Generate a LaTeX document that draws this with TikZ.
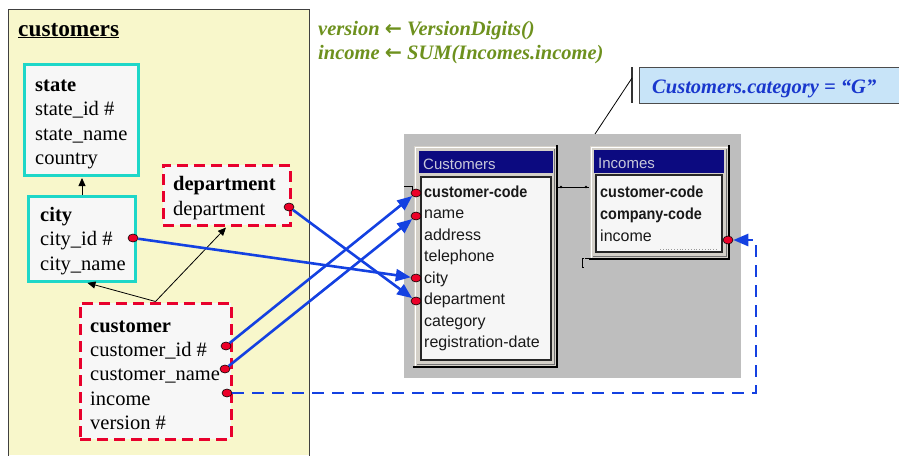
\documentclass[tikz,border=0pt]{standalone}
\usepackage{fontspec}
\usepackage{graphicx}
\setmainfont{Liberation Serif}
\newfontfamily\winfont{Liberation Sans}
\newfontfamily\arrowfont{DejaVu Sans}
\usetikzlibrary{arrows.meta,shapes.geometric}

\definecolor{panelyellow}{RGB}{248,247,203}
\definecolor{boxfill}{RGB}{247,247,247}
\definecolor{tealline}{RGB}{30,215,200}
\definecolor{redline}{RGB}{232,0,45}
\definecolor{dotred}{RGB}{235,0,40}
\definecolor{linkblue}{RGB}{20,65,225}
\definecolor{formgreen}{RGB}{110,145,30}
\definecolor{calloutfill}{RGB}{200,228,248}
\definecolor{calloutblue}{RGB}{25,55,205}
\definecolor{dbgray}{RGB}{190,190,190}
\definecolor{winface}{RGB}{212,208,200}
\definecolor{titlenavy}{RGB}{12,10,128}
\definecolor{titletext}{RGB}{200,200,218}
\definecolor{listfill}{RGB}{246,246,246}

% heavy left arrow used in the derivation formulas
\newcommand{\assignarrow}{{\arrowfont\bfseries\upshape ←}}

\tikzset{
  tealbox/.style={rectangle, draw=tealline, line width=3pt, fill=boxfill, inner sep=0pt},
  redbox/.style={rectangle, draw=redline, line width=3pt, dash pattern=on 11pt off 6pt, fill=boxfill, inner sep=0pt},
  boxtext/.style={anchor=base west, inner sep=0pt, font=\fontsize{20.5}{24}\selectfont},
  boxhead/.style={boxtext, font=\fontsize{20.5}{24}\selectfont\bfseries},
  fieldtext/.style={anchor=base west, inner sep=0pt, font=\winfont\fontsize{16}{19}\selectfont, text=black!90},
  fieldkey/.style={fieldtext},
  wintitle/.style={anchor=base west, inner sep=0pt, font=\winfont\fontsize{15}{18}\selectfont, text=titletext},
  formula/.style={anchor=base west, inner sep=0pt, font=\fontsize{20.5}{24}\selectfont\bfseries\itshape, text=formgreen},
  keydot/.style={ellipse, draw=black, line width=0.6pt, fill=dotred, minimum width=10pt, minimum height=8pt, inner sep=0pt},
  thinarrow/.style={draw=black, line width=0.8pt, -{Triangle[length=8pt,width=7pt]}},
  link/.style={draw=linkblue, line width=2.6pt, -{Triangle[length=15pt,width=12pt]}},
  linkdashed/.style={link, dash pattern=on 12pt off 8pt},
}

\begin{document}
\begin{tikzpicture}[x=1pt,y=-1pt]
\useasboundingbox (0,0) rectangle (899,455);

% ---- conceptual schema panel ----
\fill[panelyellow] (8,9) rectangle (309,455);
\draw[black!75, line width=1pt] (8,456) -- (8,9) -- (309,9) -- (309,456);
\node[anchor=base west, inner sep=0pt, font=\fontsize{23.3}{27}\selectfont\bfseries] (title) at (18,36) {\underline{customers}};

% state
\node[tealbox, minimum width=114pt, minimum height=111pt] (state) at (81,119.5) {};
\node[boxhead] (state-h) at (35,91) {state};
\node[boxtext] (state-1) at (35,115.5) {state\_id \#};
\node[boxtext] (state-2) at (35,140) {state\_name};
\node[boxtext] (state-3) at (35,164.5) {country};

% city
\node[tealbox, minimum width=106.5pt, minimum height=84.5pt] (city) at (81.75,238.75) {};
\node[boxhead] (city-h) at (40,221) {city};
\node[boxtext] (city-1) at (40,245.5) {city\_id \#};
\node[boxtext] (city-2) at (40,270) {city\_name};

% department
\node[redbox, minimum width=127pt, minimum height=60pt] (dept) at (226.5,195) {};
\node[boxhead] (dept-h) at (173,190) {department};
\node[boxtext] (dept-1) at (173,215) {department};

% customer
\node[redbox, minimum width=151pt, minimum height=136pt] (cust) at (155.5,371) {};
\node[boxhead] (cust-h) at (90,332) {customer};
\node[boxtext] (cust-1) at (90,356) {customer\_id \#};
\node[boxtext] (cust-2) at (90,380.5) {customer\_name};
\node[boxtext] (cust-3) at (90,405) {income};
\node[boxtext] (cust-4) at (90,429) {version \#};

% hierarchy arrows
\draw[thinarrow, shorten >=1.5pt] (city.north -| 82,0) -- (state.south -| 82,0);
\draw[thinarrow, shorten >=1.5pt] (cust.north) -- (city.south -| 86,0);
\draw[thinarrow, shorten >=1.5pt] (cust.north) -- (dept.south -| 227,0);

% ---- derivation formulas ----
\node[formula] (f1) at (318,35) {version \assignarrow{} VersionDigits()};
\node[formula] (f2) at (318,59) {income \assignarrow{} SUM(Incomes.income)};

% ---- source database diagram ----
\fill[dbgray] (404,134) rectangle (741,378);

% Customers table window
\fill[winface] (414,146) rectangle (557,367);
\draw[white, line width=1pt] (415,366) -- (415,147) -- (556,147);
\draw[black!55, line width=1pt] (554,149) -- (554,364) -- (417,364);
\draw[black, line width=1.5pt] (557,145) -- (557,367) -- (413,367);
\fill[titlenavy] (419,151) rectangle (553,173);
\draw[black!85, line width=1.3pt, fill=listfill] (421,177) rectangle (551,360);
\node[wintitle] (custwin-t) at (423,169) {Customers};
\node[fieldkey] (cw-1) at (424,197) {\scalebox{0.9}[1]{\bfseries customer-code}};
\node[fieldtext] (cw-2) at (424,218.5) {name};
\node[fieldtext] (cw-3) at (424,240) {address};
\node[fieldtext] (cw-4) at (424,261.5) {telephone};
\node[fieldtext] (cw-5) at (424,283) {city};
\node[fieldtext] (cw-6) at (424,304.5) {department};
\node[fieldtext] (cw-7) at (424,326) {category};
\node[fieldtext] (cw-8) at (424,347.5) {registration-date};

% Incomes table window
\fill[winface] (590,146) rectangle (729,259);
\draw[white, line width=1pt] (591,258) -- (591,147) -- (728,147);
\draw[black!55, line width=1pt] (726,149) -- (726,256) -- (593,256);
\draw[black, line width=1.5pt] (729,145) -- (729,259) -- (589,259);
\fill[titlenavy] (594,150) rectangle (724,173);
\draw[black!85, line width=1.3pt, fill=listfill] (596,175) rectangle (722,252);
\draw[black!40, line width=0.8pt, dotted] (660,249) -- (718,249);
\node[wintitle] (incwin-t) at (598,168) {Incomes};
\node[fieldkey] (iw-1) at (600,197) {\scalebox{0.9}[1]{\bfseries customer-code}};
\node[fieldkey] (iw-2) at (600,219) {\scalebox{0.9}[1]{\bfseries company-code}};
\node[fieldtext] (iw-3) at (600,241) {income};

% relationship line between the two tables and small tool marks
\coordinate (relA) at (558,187);
\coordinate (relB) at (589,187);
\draw[black, line width=0.9pt] (relA) -- (relB);
\fill[black] (561,187) circle (1.3pt) (586,187) circle (1.3pt);
\coordinate (markA) at (404,186);
\coordinate (markB) at (412,186);
\draw[black, line width=0.9pt] (markA) -- (markB) -- ++(0,4);
\coordinate (markC) at (582,258);
\draw[black, line width=0.9pt] (markC) ++(2,0) -- ++(-2,0) -- ++(0,9) -- ++(2,0);
\draw[black, line width=0.9pt] (585,258) -- (591,258);

% ---- selection condition callout ----
\node[rectangle, draw=black!70, line width=1.2pt, fill=calloutfill, anchor=north west, minimum width=266pt, minimum height=36pt, inner sep=0pt] (callout) at (639,67) {};
\node[anchor=base west, inner sep=0pt, font=\fontsize{20.5}{24}\selectfont\bfseries\itshape, text=calloutblue] (callout-t) at (652,93) {Customers.category = “G”};
\coordinate (barTop) at (632,67);
\coordinate (barBot) at (632,103);
\coordinate (barJoin) at (632,78);
\coordinate (leadEnd) at (595,134);
\draw[black!80, line width=1.8pt] (barTop) -- (barBot);
\draw[black, line width=0.8pt] (barJoin) -- (leadEnd);

% ---- mapping dots ----
\node[keydot] (d-dept) at (289,207) {};
\node[keydot] (d-city) at (133,238) {};
\node[keydot] (d-cid) at (226,346) {};
\node[keydot] (d-cname) at (225,369) {};
\node[keydot] (d-income) at (227,393) {};
\node[keydot] (t-code) at (416,193) {};
\node[keydot] (t-name) at (416,216) {};
\node[keydot] (t-city) at (416,278) {};
\node[keydot] (t-dept) at (416,301) {};
\node[keydot] (t-income) at (728,240) {};

% ---- mappings ----
\draw[link] (d-cid) -- (t-code);
\draw[link] (d-cname) -- (t-name);
\draw[link] (d-city) -- (t-city);
\draw[link] (d-dept) -- (t-dept);
\coordinate (bendA) at (756,393);
\coordinate (bendB) at (756,240);
\draw[linkdashed] (d-income) -- (bendA) -- (bendB) -- (t-income);
\end{tikzpicture}
\end{document}
